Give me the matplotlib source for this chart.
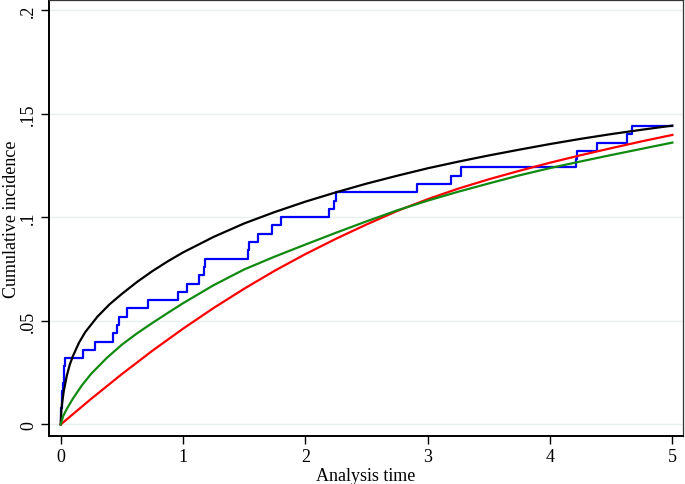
import matplotlib
matplotlib.use("Agg")
import matplotlib.pyplot as plt

# Kaplan-Meier type cumulative incidence (step function)
step_time = [0, 0.003, 0.006, 0.01, 0.013, 0.016, 0.025, 0.028, 0.032,
             0.18, 0.28, 0.43, 0.46, 0.48, 0.54, 0.71, 0.96, 1.03, 1.13,
             1.17, 1.18, 1.53, 1.54, 1.61, 1.73, 1.80, 2.19, 2.23, 2.25,
             2.91, 3.19, 3.27, 4.21, 4.22, 4.38, 4.63, 4.67, 5.0]
step_value = [0, 0.004, 0.008, 0.012, 0.016, 0.020, 0.024, 0.028, 0.032,
              0.036, 0.040, 0.044, 0.048, 0.052, 0.056, 0.060, 0.064, 0.068, 0.072,
              0.076, 0.080, 0.084, 0.088, 0.092, 0.096, 0.100, 0.104, 0.108, 0.112,
              0.116, 0.120, 0.124, 0.128, 0.132, 0.136, 0.140, 0.144, 0.144]

# fitted curves
black_time = [0, 0.005, 0.01, 0.025, 0.05, 0.075, 0.1, 0.15, 0.2, 0.3, 0.4, 0.5,
              0.625, 0.75, 0.875, 1.0, 1.25, 1.5, 1.75, 2.0, 2.25, 2.5, 2.75,
              3.0, 3.25, 3.5, 3.75, 4.0, 4.25, 4.5, 4.75, 5.0]
black_value = [0, 0.0065, 0.0095, 0.016, 0.0235, 0.029, 0.033, 0.0395, 0.0445,
               0.052, 0.058, 0.063, 0.0688, 0.0740, 0.0787, 0.083, 0.0905, 0.097,
               0.1025, 0.1075, 0.112, 0.1162, 0.120, 0.1236, 0.1268, 0.1298,
               0.1326, 0.1353, 0.1378, 0.1401, 0.1422, 0.1442]

red_time = [0, 0.25, 0.5, 0.75, 1.0, 1.25, 1.5, 1.75, 2.0, 2.25, 2.5, 2.75, 3.0,
            3.25, 3.5, 3.75, 4.0, 4.25, 4.5, 4.75, 5.0]
red_value = [0, 0.0124, 0.0243, 0.0356, 0.0462, 0.0562, 0.0655, 0.0742, 0.0822,
             0.0896, 0.0965, 0.1030, 0.1087, 0.1138, 0.1183, 0.1224, 0.1263,
             0.1299, 0.1333, 0.1366, 0.1397]

green_time = [0, 0.02, 0.05, 0.1, 0.175, 0.25, 0.375, 0.5, 0.625, 0.75, 0.875,
              1.0, 1.25, 1.5, 1.75, 2.0, 2.25, 2.5, 2.75, 3.0, 3.25, 3.5, 3.75,
              4.0, 4.25, 4.5, 4.75, 5.0]
green_value = [0, 0.004, 0.0075, 0.0125, 0.019, 0.0245, 0.032, 0.0385, 0.0440,
               0.049, 0.0538, 0.0585, 0.0672, 0.0748, 0.081, 0.0868, 0.0925,
               0.0980, 0.1033, 0.1080, 0.1123, 0.1163, 0.1202, 0.1237, 0.1269,
               0.1300, 0.1330, 0.136]

x_ticks = [0, 1, 2, 3, 4, 5]
y_ticks = [0, 0.05, 0.10, 0.15, 0.20]
y_tick_labels = ["0", ".05", ".1", ".15", ".2"]

plt.rcParams["font.family"] = ["Liberation Serif", "DejaVu Serif"]

fig = plt.figure(figsize=(6.85, 4.85), dpi=100)
ax = fig.add_axes([0.0715, 0.099, 0.9255, 0.899])

for y in y_ticks:
    ax.axhline(y, color="#e8f0f1", lw=1.0, zorder=0)

ax.plot(step_time, step_value, drawstyle="steps-post", color="#0000ff", lw=1.6, zorder=2)
ax.plot(black_time, black_value, color="black", lw=1.6, zorder=3)
ax.plot(red_time, red_value, color="#ff0000", lw=1.6, zorder=3)
ax.plot(green_time, green_value, color="#108a10", lw=1.6, zorder=4)

ax.set_xlim(-0.0956, 5.086)
ax.set_ylim(-0.00555, 0.2048)
ax.set_xticks(x_ticks)
ax.set_xticklabels([str(t) for t in x_ticks])
ax.set_yticks(y_ticks)
ax.set_yticklabels(y_tick_labels, rotation=90, va="center")
ax.tick_params(direction="out", length=5.5, width=1.0, labelsize=13, colors="black")
ax.tick_params(axis="y", pad=3)

ax.set_xlabel("Analysis time", fontsize=13, labelpad=1)
ax.set_ylabel("Cumulative incidence", fontsize=13)
# keep the y label inside the figure, like the original
ax.yaxis.set_label_coords(-0.046, 0.5)

for side in ["left", "bottom"]:
    ax.spines[side].set_linewidth(1.4)
    ax.spines[side].set_color("black")
for side in ["top", "right"]:
    ax.spines[side].set_linewidth(0.9)
    ax.spines[side].set_color("#333333")

fig.savefig("out.png", dpi=100, facecolor="white")
plt.close(fig)
